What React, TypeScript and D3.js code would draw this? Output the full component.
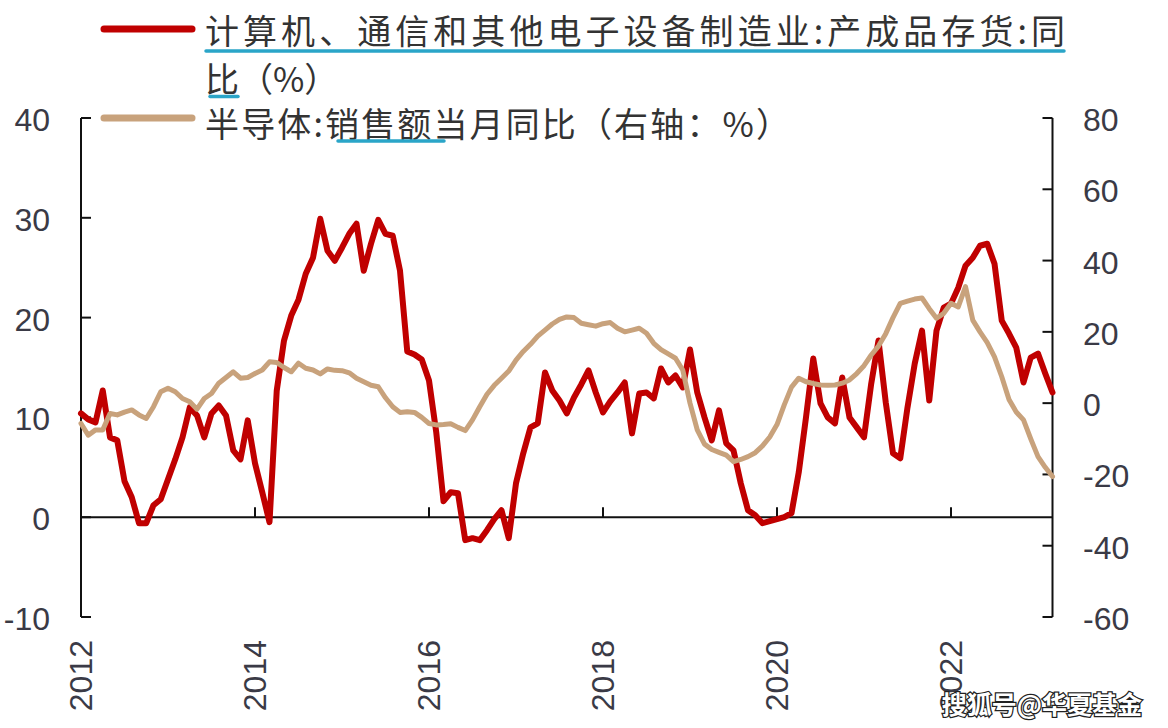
import React from "react";
import * as d3 from "d3";

const startYear = 2012;
const yearLabels = ["2012", "2014", "2016", "2018", "2020", "2022"];
const leftTicks = [-10, 0, 10, 20, 30, 40];
const rightTicks = [-60, -40, -20, 0, 20, 40, 60, 80];

const seriesRedName = "计算机、通信和其他电子设备制造业:产成品存货:同";
const seriesRedName2 = "比（%）";
const seriesTanName = "半导体:销售额当月同比（右轴：%）";

// monthly values from Jan 2012
const inventoryYoY = [
  10.4, 9.8, 9.5, 12.7, 8.0, 7.7, 3.6, 2.0, -0.6, -0.6, 1.2, 1.8,
  3.8, 5.8, 8.0, 11.0, 10.2, 8.0, 10.4, 11.2, 10.2, 6.7, 5.8, 9.7,
  5.4, 2.5, -0.5, 12.7, 17.7, 20.2, 21.8, 24.4, 26.0, 29.9, 26.7, 25.7,
  27.0, 28.4, 29.4, 24.7, 27.4, 29.8, 28.4, 28.2, 24.7, 16.6, 16.3, 15.8,
  13.7, 8.5, 1.6, 2.5, 2.4, -2.3, -2.1, -2.3, -1.3, -0.2, 0.7, -2.1,
  3.4, 6.4, 9.0, 9.4, 14.5, 12.7, 11.7, 10.4, 12.0, 13.3, 14.7, 12.5,
  10.5, 11.6, 12.5, 13.5, 8.4, 12.4, 12.5, 11.9, 14.9, 13.5, 14.2, 13.0,
  16.8, 12.5, 10.0, 7.7, 10.7, 7.4, 6.7, 3.4, 0.7, 0.2, -0.6, -0.4,
  -0.2, 0.0, 0.4, 4.5, 10.0, 15.9, 11.4, 10.0, 9.4, 14.0, 10.0, 9.0,
  8.0, 13.4, 17.7, 11.5, 6.4, 5.9, 11.0, 15.4, 18.7, 11.7, 18.7, 21.0,
  21.4, 23.0, 25.2, 26.0, 27.2, 27.4, 25.4, 19.7, 18.4, 17.0, 13.5, 16.0,
  16.4, 14.4, 12.5,
];

const semiSalesYoY = [
  -5.7, -9.0, -7.5, -7.5, -2.9, -3.3, -2.5, -1.9, -3.3, -4.3, -1.0, 3.2,
  4.2, 3.2, 1.3, 0.4, -1.7, 1.3, 2.7, 5.6, 7.2, 8.8, 7.0, 7.2,
  8.3, 9.3, 11.6, 11.4, 10.0, 8.8, 11.2, 9.8, 9.3, 8.2, 9.6, 9.2,
  9.1, 8.5, 7.0, 6.0, 5.0, 4.6, 1.5, -1.0, -2.6, -2.4, -2.6, -4.0,
  -5.7, -6.1, -6.0, -5.8, -6.8, -7.7, -4.7, -1.0, 2.5, 5.0, 7.0, 9.0,
  12.1, 14.5, 16.5, 18.8, 20.5, 22.2, 23.5, 24.2, 24.0, 22.4, 22.0, 21.6,
  22.3, 22.6, 21.0, 20.0, 20.5, 21.0, 19.6, 16.8, 15.0, 13.8, 12.6, 9.3,
  0.0, -7.5, -11.5, -13.0, -13.8, -14.6, -16.4, -15.8, -15.0, -13.9, -12.0, -9.5,
  -6.0, -0.5, 4.5, 7.0, 6.0, 5.5, 5.1, 5.0, 5.1, 5.6, 6.5, 8.3,
  10.5, 13.5, 16.0, 19.5, 24.0, 28.0, 28.6, 29.2, 29.5, 26.5, 23.8, 25.2,
  28.0, 27.0, 32.7, 23.3, 20.0, 17.0, 13.0, 7.4, 1.0, -2.5, -4.7, -10.0,
  -15.0, -18.0, -20.6,
];

const W = 1168;
const H = 728;
const RED = "#C00000";
const TAN = "#C8A27C";
const TEAL = "#2AA5C8";
const TXT = "#3a3a46";

export default function App() {
  const n = inventoryYoY.length;
  const x = d3.scaleLinear().domain([0, n - 1]).range([81, 1052.5]);
  const yL = d3.scaleLinear().domain([-10, 40]).range([617, 118]);
  const yR = d3.scaleLinear().domain([-60, 80]).range([617, 118]);

  const lineL = d3
    .line<number>()
    .x((_, i) => x(i))
    .y((d) => yL(d));
  const lineR = d3
    .line<number>()
    .x((_, i) => x(i))
    .y((d) => yR(d));

  const left = 81;
  const right = 1052.5;
  const zeroY = yL(0);
  const numFont = "'Liberation Sans', Arial, sans-serif";
  const cjkFont = "'Noto Sans CJK SC', 'Noto Sans', sans-serif";
  const fmt = (t: number) => (t < 0 ? "-" + Math.abs(t) : String(t));

  return (
    <svg
      width={W}
      height={H}
      style={{ position: "fixed", left: 0, top: 0, background: "#fff" }}
    >
      <rect x={0} y={0} width={W} height={H} fill="#fff" />

      {/* axes */}
      <g stroke="#111" strokeWidth={2} fill="none">
        <line x1={left} x2={left} y1={yL(40)} y2={yL(-10)} />
        {leftTicks.map((t) => (
          <line key={"lt" + t} x1={left} x2={left + 10} y1={yL(t)} y2={yL(t)} />
        ))}
        <line x1={right} x2={right} y1={yR(80)} y2={yR(-60)} />
        {rightTicks.map((t) => (
          <line key={"rt" + t} x1={right - 10} x2={right} y1={yR(t)} y2={yR(t)} />
        ))}
        <line x1={left} x2={right} y1={zeroY} y2={zeroY} />
        {yearLabels.map((yl) => {
          const m = (parseInt(yl) - startYear) * 12;
          return (
            <line key={"xt" + yl} x1={x(m)} x2={x(m)} y1={zeroY} y2={zeroY - 10} />
          );
        })}
      </g>

      {/* tick labels */}
      <g fill={TXT} fontFamily={numFont} fontSize={32}>
        {leftTicks.map((t) => (
          <text key={"ll" + t} x={50} y={yL(t) + 2} textAnchor="end" dominantBaseline="central">
            {fmt(t)}
          </text>
        ))}
        {rightTicks.map((t) => (
          <text key={"rl" + t} x={1083} y={yR(t) + 2} textAnchor="start" dominantBaseline="central">
            {fmt(t)}
          </text>
        ))}
        {yearLabels.map((yl) => {
          const m = (parseInt(yl) - startYear) * 12;
          return (
            <text
              key={"xl" + yl}
              transform={`translate(${x(m)},640) rotate(-90)`}
              textAnchor="end"
              dominantBaseline="central"
            >
              {yl}
            </text>
          );
        })}
      </g>

      {/* series */}
      <path
        d={lineL(inventoryYoY) || ""}
        fill="none"
        stroke={RED}
        strokeWidth={6}
        strokeLinejoin="round"
        strokeLinecap="round"
      />
      <path
        d={lineR(semiSalesYoY) || ""}
        fill="none"
        stroke={TAN}
        strokeWidth={5}
        strokeLinejoin="round"
        strokeLinecap="round"
      />

      {/* legend */}
      <line x1={104} x2={192} y1={29} y2={29} stroke={RED} strokeWidth={7} strokeLinecap="round" />
      <line x1={104} x2={192} y1={118} y2={118} stroke={TAN} strokeWidth={7} strokeLinecap="round" />
      <g fill="#333" fontFamily={cjkFont} fontSize={34}>
        <text x={205} y={29} dominantBaseline="central" textLength={860} lengthAdjust="spacing">
          {seriesRedName}
        </text>
        <text x={205} y={77} dominantBaseline="central">
          {seriesRedName2}
        </text>
        <text x={205} y={122} dominantBaseline="central" textLength={585} lengthAdjust="spacing">
          {seriesTanName}
        </text>
      </g>
      <g stroke={TEAL} strokeWidth={3.5} strokeLinecap="round">
        <line x1={206} x2={1064} y1={51} y2={51} />
        <line x1={210} x2={238} y1={96.5} y2={96.5} />
        <line x1={338} x2={444} y1={141} y2={141} />
      </g>

      {/* watermark */}
      <text
        x={1142}
        y={703}
        textAnchor="end"
        dominantBaseline="central"
        fontFamily={cjkFont}
        fontSize={25}
        fontWeight="bold"
        fill="#fff"
        stroke="#222"
        strokeWidth={2.5}
        paintOrder="stroke"
      >
        搜狐号@华夏基金
      </text>
    </svg>
  );
}
